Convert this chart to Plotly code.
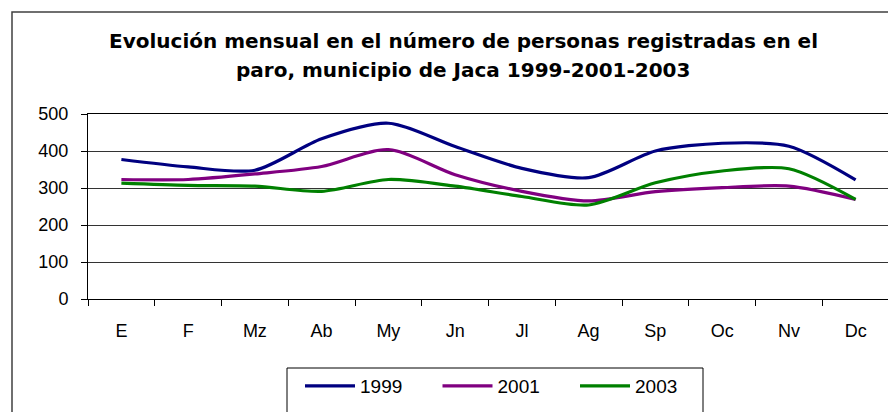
import plotly.graph_objects as go

months = ["E", "F", "Mz", "Ab", "My", "Jn", "Jl", "Ag", "Sp", "Oc", "Nv", "Dc"]
v1999 = [377, 357, 348, 433, 475, 412, 353, 328, 400, 421, 413, 322]
v2001 = [323, 323, 338, 358, 404, 336, 291, 265, 290, 301, 305, 269]
v2003 = [313, 307, 305, 291, 323, 305, 277, 254, 314, 346, 352, 269]
series = [("1999", v1999, "#000080"), ("2001", v2001, "#800080"), ("2003", v2003, "#008000")]
title_lines = ["Evolución mensual en el número de personas registradas en el",
               "paro, municipio de Jaca 1999-2001-2003"]

# page body has an 8px margin; figure coordinates are screen coordinates minus 8
W, H = 888, 404
L, R, T, B = 80, 7, 106, 113
pw, ph = W - L - R, H - T - B

def px_x(x):
    return (x - L) / pw

def px_y(y):
    return (H - B - y) / ph

fig = go.Figure()
for name, vals, col in series:
    fig.add_trace(go.Scatter(x=months, y=vals, name=name, mode="lines",
                             line=dict(color=col, width=3.2, shape="spline", smoothing=0.8)))

font = "Liberation Sans, Arial, sans-serif"
tfont = dict(family="DejaVu Sans, sans-serif", size=20, color="black")
annotations = [
    dict(text="<b>%s</b>" % title_lines[0], xref="paper", yref="paper", x=px_x(455), y=px_y(33),
         xanchor="center", yanchor="middle", showarrow=False, font=tfont),
    dict(text="<b>%s</b>" % title_lines[1], xref="paper", yref="paper", x=px_x(455), y=px_y(62),
         xanchor="center", yanchor="middle", showarrow=False, font=tfont),
]
fig.update_layout(
    width=W, height=H,
    margin=dict(l=L, r=R, t=T, b=B, autoexpand=False),
    paper_bgcolor="white", plot_bgcolor="white",
    font=dict(family=font, size=18, color="black"),
    annotations=annotations,
    showlegend=True,
    legend=dict(orientation="h", x=292 / W, xanchor="left", xref="container",
                y=1 - 359 / H, yanchor="top", yref="container",
                bgcolor="rgba(0,0,0,0)", borderwidth=0, font=dict(size=19),
                entrywidth=72.5, entrywidthmode="pixels", itemwidth=50),
    shapes=[
        dict(type="rect", xref="paper", yref="paper", x0=px_x(4), x1=px_x(905), y0=px_y(430), y1=px_y(4),
             line=dict(color="#404040", width=1.5), fillcolor="rgba(0,0,0,0)", layer="below"),
        dict(type="rect", xref="paper", yref="paper", x0=px_x(279), x1=px_x(695), y0=px_y(410), y1=px_y(360),
             line=dict(color="black", width=1), fillcolor="rgba(0,0,0,0)"),
    ],
)
fig.update_xaxes(type="category", range=[-0.5, 11.5], showgrid=False, showline=True, linecolor="black",
                 linewidth=1, mirror=True, automargin=False,
                 ticks="outside", tickson="boundaries", ticklen=6, tickcolor="black",
                 ticklabelstandoff=15, tickfont=dict(size=18))
fig.update_yaxes(range=[0, 500], dtick=100, showgrid=True, gridcolor="#333333", gridwidth=1,
                 showline=True, linecolor="black", linewidth=1, mirror=True, automargin=False,
                 ticks="outside", ticklen=6, tickcolor="black", ticklabelstandoff=9,
                 tickfont=dict(size=18), zeroline=False)

fig.write_html("out.html")
